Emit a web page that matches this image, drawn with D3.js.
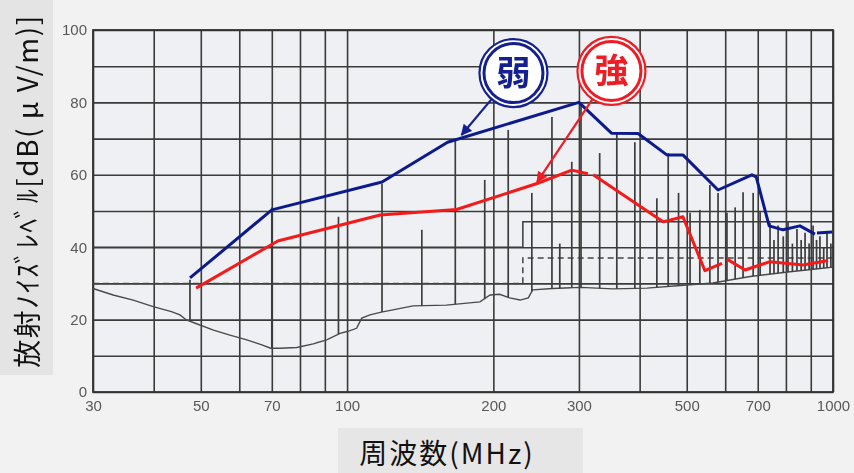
<!DOCTYPE html>
<html><head><meta charset="utf-8">
<script src="https://cdn.jsdelivr.net/npm/d3@7"></script>
<style>
html,body{margin:0;padding:0;background:#f2f2f2;}
svg{display:block;}
</style></head><body>
<svg id="chart" width="854" height="473"></svg>
<script>
// Axis grid and labels
const gridFreqs = [30,40,50,60,70,80,90,100,200,300,400,500,600,700,800,900,1000];
const freqTickLabels = [30,50,70,100,200,300,500,700,1000];
const levelGrid = [0,10,20,30,40,50,60,70,80,90,100];
const levelTickLabels = [0,20,40,60,80,100];

// Measured noise floor (MHz, dB(uV/m))
const floorFreq = [30,33,36.3,39.9,43.5,45.3,46.7,48.7,53.1,57.4,62.2,66.8,69.6,72.8,78.8,85.2,90.8,96.7,100,104.6,107.2,111.5,117,136.7,160,187.7,196.9,206,216,227,236,241,265,302,353,414,485,566,675,816,1000];
const floorLevel = [28.6,26.8,25.4,23.6,22.2,21.3,19.9,19.0,17.1,15.7,14.4,13.0,12.1,12.1,12.3,13.3,14.4,16.2,16.7,17.6,20.4,21.3,22.0,23.8,24.0,24.9,26.8,27.0,26.0,25.4,26.0,28.2,28.6,28.9,28.5,28.7,29.4,30.1,31.9,33.2,34.5];

// Narrow-band emissions: frequency and peak level
const spikeFreq = [47.5,70,96,118,142.5,167,192,214.6,240,264,274,290,303,331,359,391,434,458,481,508,532,558,580,605,629,653,685,708,742,756,771,790,808,825,843,860,876,893,910,925,940,957,972,990];
const spikeLevel = [31,51,48.4,57.5,44.8,70,58.6,72.4,55,76,41,63.6,80,66,71.5,69,53.5,66,55,49.5,50.3,57.2,55,49.5,51,55.2,55,49.7,46.7,42,46,43,47,41,45,42,44,41,46,42,43,40,44,41];

// Limit lines
const limitFreq = [30,230,230,1000];
const limitBLevel = [30,30,37,37];
const limitALevel = [40,40,47,47];

// Envelopes: weak and strong emission (null = break in the line)
const weakFreq  = [47.5,70,118,161,300,350,397,455,491,580,681,695,739,789,855,918,922,927,996];
const weakLevel = [31.5,50.3,58,69,80,71.5,71.4,65.5,65.5,55.8,60,59.4,45.9,44.8,45.9,43.6,null,43.9,44.2];
const strongFreq  = [48.9,72,117,168,246,290,313,317,321,447,491,545,591,598,605,659,742,868,977];
const strongLevel = [28.7,41.7,48.9,50.4,57.6,61.3,60.3,null,60.0,47,48.4,33.5,35.5,null,36.7,33.7,36,35.1,36.3];

// Callouts: label, circle centre and arrow tip in data units
const noteLabels = ["弱","強"];
const noteFreq = [220,350];
const noteLevel = [88.1,88.7];
const noteTipFreq = [172,246];
const noteTipLevel = [71,58];

const W = 854, H = 473;
const plot = {left:93, right:833, top:30, bottom:392};
const svg = d3.select("#chart");

const x = d3.scaleLog().domain([30,1000]).range([plot.left, plot.right]);
const y = d3.scaleLinear().domain([0,100]).range([plot.bottom, plot.top]);

const defs = svg.append("defs");
defs.append("filter").attr("id","soft").attr("x","-5%").attr("y","-5%").attr("width","110%").attr("height","110%")
  .append("feGaussianBlur").attr("stdDeviation",0.55);

svg.append("rect").attr("width",W).attr("height",H).attr("fill","#f2f2f2");
svg.append("rect").attr("x",plot.left).attr("y",plot.top)
  .attr("width",plot.right-plot.left).attr("height",plot.bottom-plot.top).attr("fill","#eff0f3");

const scan = svg.append("g").attr("filter","url(#soft)");

// grid
scan.append("g").attr("transform",`translate(0,${plot.bottom})`)
  .call(d3.axisBottom(x).tickValues(gridFreqs).tickSize(-(plot.bottom-plot.top)).tickFormat(""))
  .call(g=>g.select(".domain").remove())
  .call(g=>g.selectAll("line").attr("stroke","#3a3a3a").attr("stroke-width",1.6));
scan.append("g").attr("transform",`translate(${plot.left},0)`)
  .call(d3.axisLeft(y).tickValues(levelGrid).tickSize(-(plot.right-plot.left)).tickFormat(""))
  .call(g=>g.select(".domain").remove())
  .call(g=>g.selectAll("line").attr("stroke","#3a3a3a").attr("stroke-width",1.6));

// tick labels
const xAxis = scan.append("g").attr("transform",`translate(0,${plot.bottom})`)
  .call(d3.axisBottom(x).tickValues(freqTickLabels).tickSize(0).tickPadding(8).tickFormat(d3.format("d")));
const yAxis = scan.append("g").attr("transform",`translate(${plot.left},0)`)
  .call(d3.axisLeft(y).tickValues(levelTickLabels).tickSize(0).tickPadding(6).tickFormat(d3.format("d")));
[xAxis,yAxis].forEach(a=>{
  a.select(".domain").remove();
  a.selectAll("text").attr("fill","#585858").style("font-family","'Liberation Sans',Arial,sans-serif").style("font-size","15px");
});
// frame
scan.append("rect").attr("x",plot.left).attr("y",plot.top)
  .attr("width",plot.right-plot.left).attr("height",plot.bottom-plot.top)
  .attr("fill","none").attr("stroke","#333").attr("stroke-width",1.8);

// limit lines
const limLine = d3.line().x(d=>x(d[0])).y(d=>y(d[1]));
scan.append("path").datum(d3.zip(limitFreq,limitALevel)).attr("d",limLine)
  .attr("fill","none").attr("stroke","#3a3a3a").attr("stroke-width",1.5);
scan.append("path").datum(d3.zip(limitFreq,limitBLevel)).attr("d",limLine)
  .attr("fill","none").attr("stroke","#444").attr("stroke-width",1.5).attr("stroke-dasharray","6,4");

// noise floor and spikes
const floorAt = d3.scaleLog().domain(floorFreq).range(floorLevel);
scan.append("path").datum(d3.zip(floorFreq,floorLevel)).attr("d",limLine)
  .attr("fill","none").attr("stroke","#4a4a4a").attr("stroke-width",1.4);
scan.append("g").selectAll("line").data(d3.zip(spikeFreq,spikeLevel)).join("line")
  .attr("x1",d=>x(d[0])).attr("x2",d=>x(d[0]))
  .attr("y1",d=>y(floorAt(d[0]))).attr("y2",d=>y(d[1]))
  .attr("stroke","#3c3c3c").attr("stroke-width",1.7);

// envelopes
const env = d3.line().defined(d=>d[1]!=null).x(d=>x(d[0])).y(d=>y(d[1]));
svg.append("path").datum(d3.zip(strongFreq,strongLevel)).attr("d",env)
  .attr("fill","none").attr("stroke","#f41a1a").attr("stroke-width",3).attr("stroke-linejoin","round");
svg.append("path").datum(d3.zip(weakFreq,weakLevel)).attr("d",env)
  .attr("fill","none").attr("stroke","#0d1a8e").attr("stroke-width",3).attr("stroke-linejoin","round");

// callouts
const noteColors = ["#14208f","#ee1c24"];
noteLabels.forEach((lab,i)=>{
  const cx = x(noteFreq[i]), cy = y(noteLevel[i]);
  const tx = x(noteTipFreq[i]), ty = y(noteTipLevel[i]);
  const c = noteColors[i];
  const mid = "arrow"+i;
  defs.append("marker").attr("id",mid).attr("viewBox","0 0 10 10").attr("refX",9).attr("refY",5)
    .attr("markerWidth",13).attr("markerHeight",11).attr("markerUnits","userSpaceOnUse").attr("orient","auto")
    .append("path").attr("d","M0,0 L10,5 L0,10 Z").attr("fill",c);
  const dx = tx-cx, dy = ty-cy, len = Math.hypot(dx,dy);
  svg.append("line").attr("x1",cx+dx/len*34).attr("y1",cy+dy/len*34).attr("x2",tx).attr("y2",ty)
    .attr("stroke",c).attr("stroke-width",2.2).attr("marker-end",`url(#${mid})`);
  svg.append("circle").attr("cx",cx).attr("cy",cy).attr("r",34).attr("fill","#fff").attr("stroke",c).attr("stroke-width",2.2);
  svg.append("circle").attr("cx",cx).attr("cy",cy).attr("r",29.5).attr("fill","#fff").attr("stroke",c).attr("stroke-width",3);
  svg.append("text").attr("x",cx).attr("y",cy).attr("dy","0.36em").attr("text-anchor","middle")
    .attr("fill",c).style("font-family","'Noto Sans CJK JP',sans-serif").style("font-weight","bold").style("font-size","34px")
    .text(lab);
});

// axis titles
svg.append("rect").attr("x",0).attr("y",0).attr("width",53).attr("height",375).attr("fill","#e4e4e4");
svg.append("text").attr("transform","translate(28,191) rotate(-90)").attr("text-anchor","middle").attr("dy","0.35em")
  .attr("fill","#111").style("font-family","'Noto Sans CJK JP',sans-serif").style("font-size","28px")
  .style("letter-spacing","1.5px")
  .text("放射ﾉｲｽﾞﾚﾍﾞﾙ[dB( μ V/m)]");
svg.append("rect").attr("x",338).attr("y",428).attr("width",245).attr("height",45).attr("fill","#e6e6e6");
svg.append("text").attr("x",447).attr("y",464).attr("text-anchor","middle")
  .attr("fill","#111").style("font-family","'Noto Sans CJK JP',sans-serif").style("font-size","28px")
  .style("letter-spacing","2px")
  .text("周波数(MHz)");
</script>
</body></html>
